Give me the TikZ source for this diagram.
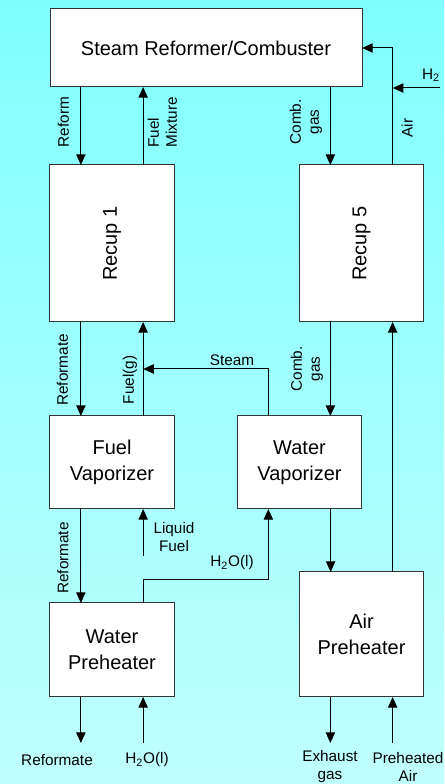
\documentclass[tikz,border=0pt]{standalone}
\usepackage{fontspec}
\setmainfont{Liberation Sans}
\usetikzlibrary{calc,positioning,arrows.meta}
\definecolor{bgtop}{RGB}{128,255,255}
\definecolor{bgbot}{RGB}{192,255,255}
\newcommand{\unitfont}{\fontsize{15}{19.5}\selectfont}
\newcommand{\flowfont}{\fontsize{11.5}{13.5}\selectfont}

\begin{document}
\begin{tikzpicture}[x=0.75pt,y=0.75pt,
  unit/.style={draw=black!80,fill=white,line width=0.75pt,inner sep=0pt,outer sep=0pt,
    minimum width=93.4pt,font=\unitfont,align=center},
  txt/.style={font=\unitfont,inner sep=0pt},
  flow/.style={line width=0.75pt,-{Triangle[length=8pt,width=7pt]}},
  lbl/.style={font=\flowfont,inner sep=0pt,align=center}]
  \useasboundingbox (0,0) rectangle (444,784);
  \shade[top color=bgtop,bottom color=bgbot] (0,0) rectangle (444,784);
  \node[unit,minimum width=234pt,minimum height=58.5pt] (ref) at (206,736) {Steam Reformer/Combuster};
  \node[unit,minimum height=117.75pt] (rec1) at (112,540.5) {};
  \node[unit,minimum height=117.75pt] (rec5) at (361.5,540.5) {};
  \node[txt,rotate=90] (rec1t) at (rec1) {Recup 1};
  \node[txt,rotate=90] (rec5t) at (rec5) {Recup 5};
  \node[unit,minimum height=69.75pt] (fvap) at (112,321.5) {Fuel\\Vaporizer};
  \node[unit,minimum height=69.75pt] (wvap) at (299.5,321.5) {Water\\Vaporizer};
  \node[unit,minimum height=70.5pt] (wpre) at (112,134) {Water\\Preheater};
  \node[unit,minimum height=93.75pt] (apre) at (361.5,149.5) {Air\\Preheater};
  \foreach \b in {rec1,rec5,fvap,wvap,wpre,apre} {
    \coordinate (\b-nl) at ($(\b.north west)!0.25!(\b.north east)$);
    \coordinate (\b-nr) at ($(\b.north west)!0.75!(\b.north east)$);
    \coordinate (\b-sl) at ($(\b.south west)!0.25!(\b.south east)$);
    \coordinate (\b-sr) at ($(\b.south west)!0.75!(\b.south east)$);
  }
  \coordinate (h2in) at (440,696);
  \coordinate (stm) at (0,415);
  \coordinate (lq) at (0,228);
  \coordinate (wl) at (0,204);
  \coordinate (base) at (0,41);

  \draw[flow] (ref.south -| rec1-nl) -- (rec1-nl);
  \draw[flow] (rec1-nr) -- (ref.south -| rec1-nr);
  \draw[flow] (ref.south -| rec5-nl) -- (rec5-nl);
  \draw[flow] (rec5-nr) |- (ref.east);
  \draw[flow] (h2in) -- (h2in -| rec5-nr);
  \draw[flow] (rec1-sl) -- (fvap-nl);
  \draw[flow] (fvap-nr) -- (rec1-sr);
  \draw[flow] (wvap-nl) |- (stm -| fvap-nr);
  \draw[flow] (rec5-sl) -- (rec5-sl |- wvap.north);
  \draw[flow] (apre-nr) -- (apre-nr |- rec5.south);
  \draw[flow] (fvap-sl) -- (wpre-nl);
  \draw[flow] (fvap-sr |- lq) -- (fvap-sr);
  \draw[flow] (wpre-nr) -- (wpre-nr |- wl) -| (wvap-sl);
  \draw[flow] (wvap-sr) -- (wvap-sr |- apre.north);
  \draw[flow] (wpre-sl) -- (wpre-sl |- base);
  \draw[flow] (wpre-sr |- base) -- (wpre-sr);
  \draw[flow] (apre-sl) -- (apre-sl |- base);
  \draw[flow] (apre-sr |- base) -- (apre-sr);

  \node[lbl,rotate=90] (l1) at (63.5,662) {Reform};
  \node[lbl,rotate=90,align=left] (l2) at (162.5,661.5) {Fuel\\Mixture};
  \node[lbl,rotate=90] (l3) at (306,662) {Comb.\\gas};
  \node[lbl,rotate=90] (l4) at (407,656) {Air};
  \node[lbl] (l5) at (431,709) {H\textsubscript{2}};
  \node[lbl,rotate=90] (l6) at (62.5,414) {Reformate};
  \node[lbl,rotate=90] (l7) at (130,404) {Fuel(g)};
  \node[lbl] (l8) at (232,424) {Steam};
  \node[lbl,rotate=90] (l9) at (307,415) {Comb.\\gas};
  \node[lbl,rotate=90] (l10) at (63,226) {Reformate};
  \node[lbl] (l11) at (174,247) {Liquid\\Fuel};
  \node[lbl] (l12) at (232,221) {H\textsubscript{2}O(l)};
  \node[lbl] (l13) at (57,24) {Reformate};
  \node[lbl] (l14) at (147,24) {H\textsubscript{2}O(l)};
  \node[lbl] (l15) at (330,17.5) {Exhaust\\gas};
  \node[lbl] (l16) at (408,17.5) {Preheated\\Air};
\end{tikzpicture}
\end{document}
